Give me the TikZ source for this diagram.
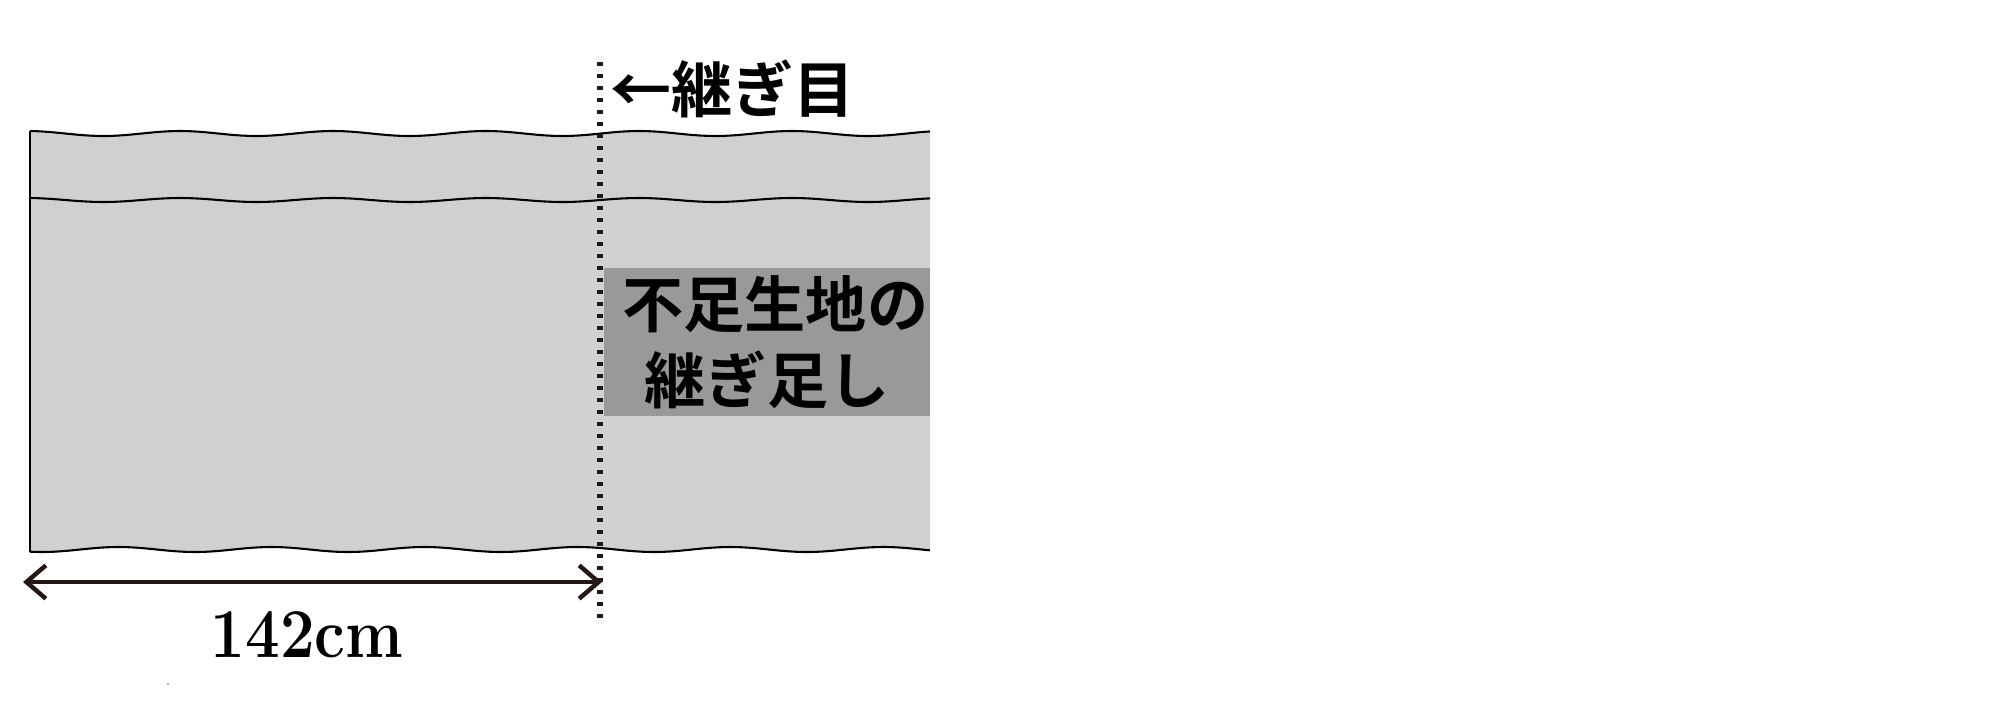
\documentclass[tikz,border=0pt]{standalone}
\usepackage{graphicx}
\usepackage{fontspec}
\newfontfamily\cjk{Noto Sans CJK JP Bold}
\usetikzlibrary{arrows.meta}
\definecolor{fabric}{RGB}{208,208,208}
\definecolor{patch}{RGB}{153,153,153}
\definecolor{ink}{RGB}{35,24,21}
\tikzset{
  edge/.style={black, line width=0.75pt},
  seamline/.style={ink, line width=2.16pt, dash pattern=on 1.26pt off 3.06pt},
  dimarrow/.style={ink, line width=1.6pt, {Straight Barb[length=7pt,width=12pt]}-{Straight Barb[length=7pt,width=12pt]}},
  jtext/.style={font=\cjk\fontsize{22}{27.4}\selectfont, inner sep=0pt}
}
\begin{document}
\begin{tikzpicture}[x=0.36pt,y=-0.36pt]
\useasboundingbox (0,0) rectangle (2001,701);
% fabric
\fill[fabric] plot[domain=30:930,samples=150] (\x,{133.5-2.5*cos((\x-180)/153*360)})
  -- plot[domain=930:30,samples=150] (\x,{549.5+2.5*cos((\x-807)/153*360)}) -- cycle;
% patch box with text
\node[jtext, fill=patch, minimum width=117.4pt, minimum height=53.3pt, align=center] (patch) at (767,342) {\hspace*{6pt}不足生地の\\継ぎ足し};
% edges
\draw[edge] plot[domain=30:930,samples=150] (\x,{133.5-2.5*cos((\x-180)/153*360)});
\draw[edge] plot[domain=30:930,samples=150] (\x,{200-2*cos((\x-180)/153*360)});
\draw[edge] plot[domain=30:930,samples=150] (\x,{549.5+2.5*cos((\x-807)/153*360)});
\coordinate (lt) at (30,131);
\coordinate (lb) at (30,551.7);
\draw[edge] (lt) -- (lb);
% seam
\coordinate (sT) at (600,62);
\coordinate (sB) at (600,620);
\draw[seamline] (sT) -- (sB);
\node[jtext, anchor=west] (seam) at (610,89) {←継ぎ目};
% dimension
\coordinate (aL) at (23,582);
\coordinate (aR) at (602,582);
\draw[dimarrow] (aL) -- (aR);
\node[font=\bfseries\fontsize{25.2}{30}\selectfont, anchor=base, inner sep=0pt] (width) at (307,657) {\scalebox{0.88}[1]{142cm}};
\fill[gray] (168,684) circle[radius=1];
\end{tikzpicture}
\end{document}
